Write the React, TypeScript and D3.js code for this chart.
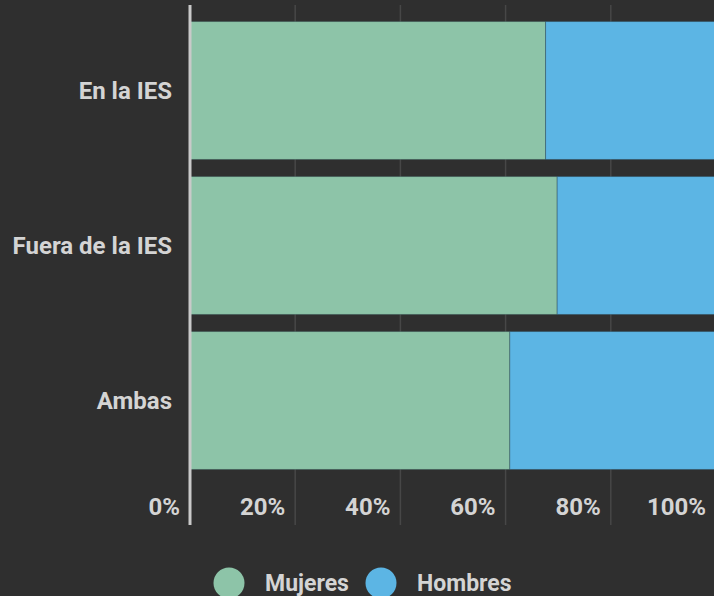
import React, {useRef, useEffect} from 'react';
import * as d3 from 'd3';

const categories = ['En la IES', 'Fuera de la IES', 'Ambas'];
const seriesNames = ['Mujeres', 'Hombres'];
const mujeres = [67.6, 69.8, 60.8];
const hombres = [32.4, 30.2, 39.2];
const tickValues = [0, 20, 40, 60, 80, 100];
const colors = ['#8dc4a8', '#5cb5e4'];

export default function App(){

    const svgRef = useRef(null);

    useEffect(() => {
        const width = 714;
        const height = 596;
        const svg = d3.select(svgRef.current);
        svg.selectAll('*').remove();

        svg.append('rect')
            .attr('width', width)
            .attr('height', height)
            .attr('fill', '#2f2f2f');

        const rows = categories.map((c, i) => ({cat: c, Mujeres: mujeres[i], Hombres: hombres[i]}));
        const stacked = d3.stack().keys(seriesNames)(rows);

        const xScale = d3.scaleLinear().domain([0, 100]).range([190, 716]);
        const yScale = d3.scaleBand()
            .domain(categories)
            .range([13, 478])
            .paddingInner(0.11)
            .paddingOuter(0.055);

        const font = 'Roboto, "Noto Sans", sans-serif';

        // grid lines
        svg.append('g')
            .selectAll('line')
            .data(tickValues.slice(1))
            .join('line')
            .attr('x1', d => xScale(d))
            .attr('x2', d => xScale(d))
            .attr('y1', 5)
            .attr('y2', 525)
            .attr('stroke', '#474747')
            .attr('stroke-width', 1.5);

        // bars
        const groups = svg.append('g')
            .selectAll('g')
            .data(stacked)
            .join('g')
            .attr('fill', (d, i) => colors[i]);

        groups.selectAll('rect')
            .data(d => d)
            .join('rect')
            .attr('x', d => xScale(d[0]))
            .attr('width', d => xScale(d[1]) - xScale(d[0]))
            .attr('y', d => yScale(d.data.cat))
            .attr('height', yScale.bandwidth())
            .attr('stroke', 'rgba(40,60,70,0.35)')
            .attr('stroke-width', 1);

        // axis line
        svg.append('line')
            .attr('x1', xScale(0))
            .attr('x2', xScale(0))
            .attr('y1', 5)
            .attr('y2', 525)
            .attr('stroke', '#c9c9c9')
            .attr('stroke-width', 3);

        // category labels
        svg.append('g')
            .selectAll('text')
            .data(categories)
            .join('text')
            .attr('x', 172)
            .attr('y', d => yScale(d) + yScale.bandwidth() / 2)
            .attr('dy', '0.36em')
            .attr('text-anchor', 'end')
            .attr('font-family', font)
            .attr('font-weight', 'bold')
            .attr('font-size', 24)
            .attr('fill', '#d4d4d4')
            .text(d => d);

        // tick labels
        svg.append('g')
            .selectAll('text')
            .data(tickValues)
            .join('text')
            .attr('x', d => xScale(d) - 10)
            .attr('y', 515)
            .attr('text-anchor', 'end')
            .attr('font-family', font)
            .attr('font-weight', 'bold')
            .attr('font-size', 24)
            .attr('fill', '#d4d4d4')
            .text(d => d + '%');

        // legend
        const legendX = [229, 381];
        const legend = svg.append('g')
            .selectAll('g')
            .data(seriesNames)
            .join('g')
            .attr('transform', (d, i) => `translate(${legendX[i]}, 583)`);
        legend.append('circle')
            .attr('r', 15.5)
            .attr('fill', (d, i) => colors[i]);
        legend.append('text')
            .attr('x', 36)
            .attr('y', 8)
            .attr('font-family', font)
            .attr('font-weight', 'bold')
            .attr('font-size', 23)
            .attr('fill', '#d4d4d4')
            .text(d => d);
    }, []);

    return(
        <svg
            ref={svgRef}
            width={714}
            height={596}
            style={{position: 'absolute', top: 0, left: 0, display: 'block'}}
        />
    );
}
